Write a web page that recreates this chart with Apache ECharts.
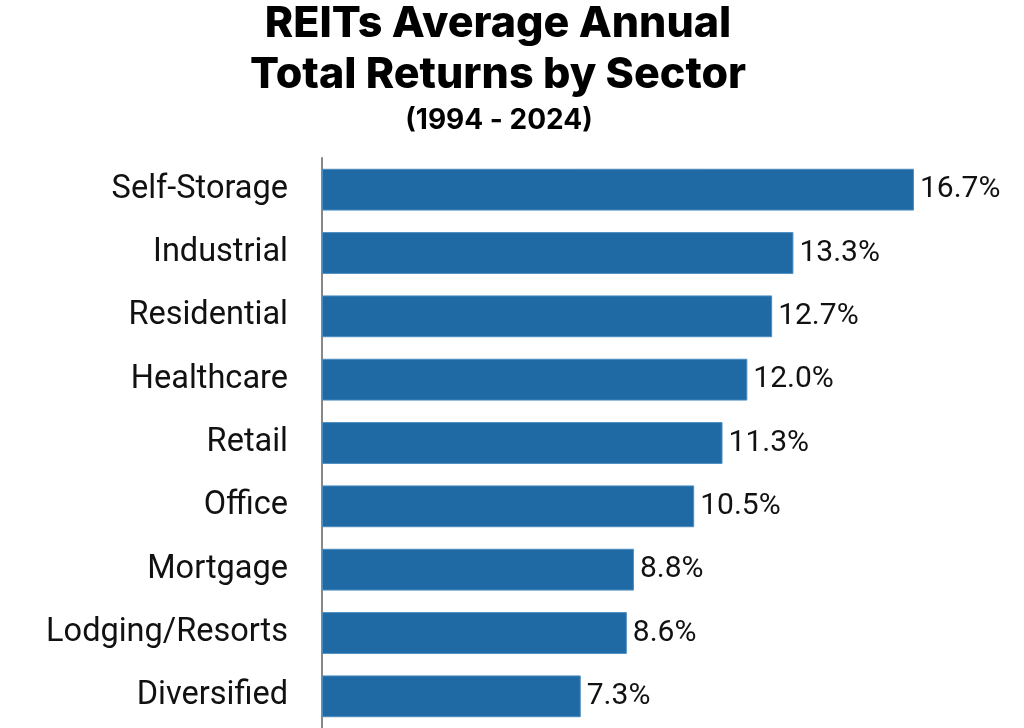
<!DOCTYPE html>
<html><head><meta charset="utf-8">
<script src="https://cdn.jsdelivr.net/npm/echarts@6/dist/echarts.min.js"></script>
<style>html,body{margin:0;padding:0;background:#fff}#c{width:1024px;height:728px}</style>
</head><body><div id="c"></div>
<script>
const categories = ["Self-Storage","Industrial","Residential","Healthcare","Retail","Office","Mortgage","Lodging/Resorts","Diversified"];
const returns = [16.7,13.3,12.7,12.0,11.3,10.5,8.8,8.6,7.3];
const titleLines = ["REITs Average Annual","Total Returns by Sector"];
const subtitle = "(1994 - 2024)";
const chart = echarts.init(document.getElementById('c'));
chart.setOption({
  backgroundColor:'#fff',
  animation:false,
  graphic:[
    {type:'text', x:498, y:-1, style:{text:titleLines.join('\n'), textAlign:'center', fontFamily:'Inter', fontWeight:800, fontSize:43, lineHeight:51, fill:'#000'}},
    {type:'text', x:499, y:107, style:{text:subtitle, textAlign:'center', fontFamily:'Inter', fontWeight:'bold', fontSize:28, fill:'#000'}}
  ],
  grid:{left:322, right:64, top:158, bottom:-4, containLabel:false},
  xAxis:{type:'value', min:0, max:18, show:false},
  yAxis:{type:'category', data:categories, inverse:true,
    axisLine:{show:true, lineStyle:{color:'#888', width:2}},
    axisTick:{show:false}, splitLine:{show:false},
    axisLabel:{fontFamily:'Roboto', fontSize:32.5, color:'#111', margin:34}
  },
  series:[{type:'bar', data:returns, barWidth:'66%',
    itemStyle:{color:'#1f6aa5', borderColor:'#4a8cc0', borderWidth:1},
    label:{show:true, position:'right', distance:6, fontFamily:'Roboto', fontSize:30, color:'#111', formatter:p=>p.value.toFixed(1)+'%'}
  }]
});
</script></body></html>
